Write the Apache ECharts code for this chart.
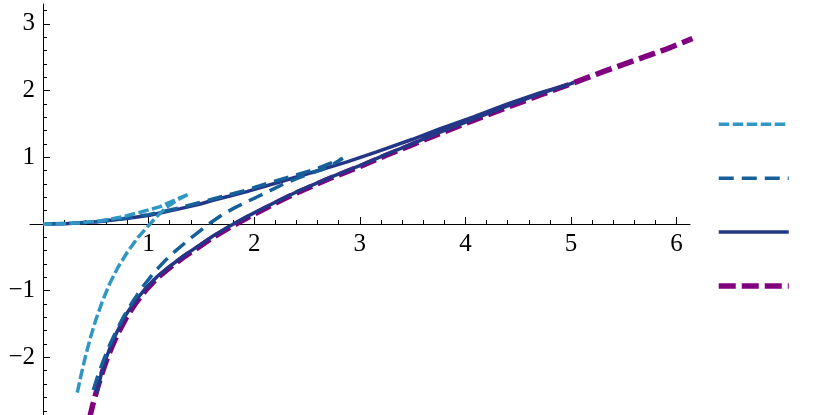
<!DOCTYPE html>
<html><head><meta charset="utf-8">
<script src="https://cdn.jsdelivr.net/npm/echarts@6/dist/echarts.min.js"></script>
<style>html,body{margin:0;padding:0;background:#fff}#c{width:830px;height:415px}</style>
</head><body><div id="c"></div>
<script>
// Tick labels
const xTickLabels = [1, 2, 3, 4, 5, 6];
const yTickLabels = [-2, -1, 1, 2, 3];

// Curve 1 (light blue, short dashes): lower branch up to the tip, then upper branch back to origin
const c1X = [0.325, 0.36, 0.4, 0.45, 0.5, 0.56, 0.63, 0.71, 0.8, 0.9, 1.013, 1.09, 1.17, 1.27, 1.385,
             1.25, 1.11, 0.92, 0.73, 0.55, 0.35, 0.15, 0];
const c1Y = [-2.53, -2.27, -2.0, -1.7, -1.44, -1.17, -0.9, -0.65, -0.42, -0.2, 0, 0.13, 0.25, 0.36, 0.45,
             0.36, 0.26, 0.175, 0.1, 0.048, 0.016, 0.002, 0];

// Curve 2 (blue, medium dashes)
const c2X = [0.476, 0.52, 0.571, 0.63, 0.698, 0.77, 0.855, 0.95, 1.05, 1.15, 1.25, 1.37, 1.49, 1.58, 1.68, 1.8, 1.9, 2.02, 2.15, 2.28, 2.4, 2.52, 2.65, 2.75, 2.84,
             2.56, 2.18, 1.93, 1.6, 1.3, 1.0, 0.75, 0.5, 0.25, 0];
const c2Y = [-2.49, -2.27, -2.05, -1.82, -1.59, -1.37, -1.15, -0.93, -0.73, -0.56, -0.41, -0.25, -0.1, 0.01, 0.12, 0.23, 0.31, 0.4, 0.5, 0.6, 0.68, 0.75, 0.82, 0.9, 0.985,
             0.81, 0.635, 0.51, 0.37, 0.245, 0.14, 0.08, 0.035, 0.008, 0];

// Curve 3 (navy, solid)
const c3X = [0.51, 0.55, 0.6, 0.65, 0.7, 0.79, 0.88, 0.98, 1.08, 1.18, 1.33, 1.49, 1.61, 1.77, 1.93, 2.09, 2.25, 2.4, 2.56, 2.72, 2.88, 3.03, 3.25, 3.5, 3.75, 4.07, 4.4, 4.71, 5.03,
             4.71, 4.4, 4.07, 3.75, 3.5, 3.16, 2.88, 2.56, 2.24, 1.93, 1.76, 1.61, 1.49, 1.3, 1.15, 1.01, 0.79, 0.54, 0.38, 0.2, 0.02];
const c3Y = [-2.54, -2.26, -2.0, -1.8, -1.62, -1.35, -1.14, -0.95, -0.79, -0.66, -0.48, -0.31, -0.18, -0.03, 0.11, 0.24, 0.365, 0.48, 0.59, 0.7, 0.8, 0.895, 1.045, 1.205, 1.37, 1.57, 1.77, 1.955, 2.12,
             1.97, 1.8, 1.6, 1.42, 1.27, 1.08, 0.93, 0.78, 0.63, 0.485, 0.415, 0.355, 0.3, 0.23, 0.18, 0.13, 0.083, 0.037, 0.018, 0.005, 0];

// Curve 4 (purple, thick dashes)
const c4X = [0.44, 0.47, 0.51, 0.55, 0.6, 0.65, 0.7, 0.79, 0.88, 0.98, 1.08, 1.18, 1.33, 1.49, 1.61, 1.77, 1.93, 2.09, 2.25, 2.4, 2.56, 2.72, 2.88, 3.03, 3.25, 3.5, 3.75, 4.07, 4.4, 4.71, 5.0, 5.3, 5.6, 5.9, 6.15];
const c4Y = [-2.92, -2.72, -2.49, -2.28, -2.05, -1.85, -1.67, -1.4, -1.18, -0.98, -0.81, -0.68, -0.5, -0.33, -0.2, -0.05, 0.09, 0.22, 0.35, 0.465, 0.575, 0.685, 0.785, 0.88, 1.03, 1.19, 1.35, 1.55, 1.75, 1.935, 2.1, 2.28, 2.45, 2.62, 2.78];

const pairs = (xs, ys) => xs.map((x, i) => [x, ys[i]]);
const fmt = v => (v < 0 ? '\u2212' + Math.abs(v) : String(v));
const FONT = '"Liberation Serif", "Times New Roman", serif';
const hiddenAxis = {show: false, axisLine: {show: false}, axisTick: {show: false}, axisLabel: {show: false}, splitLine: {show: false}};
const tickStyle = {inside: true, length: 7, lineStyle: {color: '#000', width: 1}};
const minorStyle = {show: true, splitNumber: 5, length: 4, lineStyle: {color: '#000', width: 1}};

const chart = echarts.init(document.getElementById('c'), null, {renderer: 'canvas'});
chart.setOption({
  animation: false,
  backgroundColor: '#fff',
  grid: [
    // data grid (axis lines through origin)
    {left: 30, right: 140, top: 4, bottom: 0, outerBoundsMode: 'none', containLabel: false},
    // x ticks/labels grid: bottom edge at y = 0
    {left: 43, right: 153.4, top: 4, bottom: 191, outerBoundsMode: 'none', containLabel: false},
    // y ticks/labels grid: left edge at x = 0
    {left: 43, right: 153.4, top: -42.8, bottom: -9.1, outerBoundsMode: 'none', containLabel: false}
  ],
  xAxis: [
    {gridIndex: 0, type: 'value', min: -0.123, max: 6.127,
     axisLine: {onZero: true, lineStyle: {color: '#000', width: 1}},
     axisTick: {show: false}, axisLabel: {show: false}, splitLine: {show: false}},
    {gridIndex: 1, type: 'value', min: 0, max: 6, interval: 1, position: 'bottom',
     axisLine: {show: false, onZero: false},
     axisTick: tickStyle, minorTick: minorStyle,
     axisLabel: {margin: 8, fontFamily: FONT, fontSize: 25, color: '#000',
                 formatter: v => (xTickLabels.includes(v) ? fmt(v) : '')},
     splitLine: {show: false}},
    Object.assign({gridIndex: 2, type: 'value', min: 0, max: 6}, hiddenAxis)
  ],
  yAxis: [
    {gridIndex: 0, type: 'value', min: -2.864, max: 3.298,
     axisLine: {onZero: true, lineStyle: {color: '#000', width: 1}},
     axisTick: {show: false}, axisLabel: {show: false}, splitLine: {show: false}},
    Object.assign({gridIndex: 1, type: 'value', min: 0, max: 1}, hiddenAxis),
    {gridIndex: 2, type: 'value', min: -3, max: 4, interval: 1, position: 'left',
     axisLine: {show: false, onZero: false},
     axisTick: tickStyle, minorTick: minorStyle,
     axisLabel: {margin: 8, fontFamily: FONT, fontSize: 25, color: '#000',
                 formatter: v => (yTickLabels.includes(v) ? fmt(v) : '')},
     splitLine: {show: false}}
  ],
  legend: {
    orient: 'vertical', left: 716, top: 117.3, padding: 0, itemWidth: 70, itemHeight: 14, itemGap: 41.3,
    data: ['c1', 'c2', 'c3', 'c4'],
    formatter: () => '',
    selectedMode: false,
    itemStyle: {opacity: 0},
    lineStyle: {width: 'inherit'},
    textStyle: {fontSize: 1}
  },
  series: [
    {name: 'c4', type: 'line', xAxisIndex: 0, yAxisIndex: 0, data: pairs(c4X, c4Y), symbol: 'none', showSymbol: false,
     lineStyle: {color: '#800080', width: 5.5, type: [17, 6], cap: 'butt'}},
    {name: 'c3', type: 'line', xAxisIndex: 0, yAxisIndex: 0, data: pairs(c3X, c3Y), symbol: 'none', showSymbol: false,
     lineStyle: {color: '#243686', width: 3.5, type: 'solid'}},
    {name: 'c2', type: 'line', xAxisIndex: 0, yAxisIndex: 0, data: pairs(c2X, c2Y), symbol: 'none', showSymbol: false,
     lineStyle: {color: '#15609b', width: 3.5, type: [15, 8], cap: 'butt'}},
    {name: 'c1', type: 'line', xAxisIndex: 0, yAxisIndex: 0, data: pairs(c1X, c1Y), symbol: 'none', showSymbol: false,
     lineStyle: {color: '#3097c3', width: 3.5, type: [10.5, 3.5], cap: 'butt'}}
  ]
});
</script>
</body></html>
